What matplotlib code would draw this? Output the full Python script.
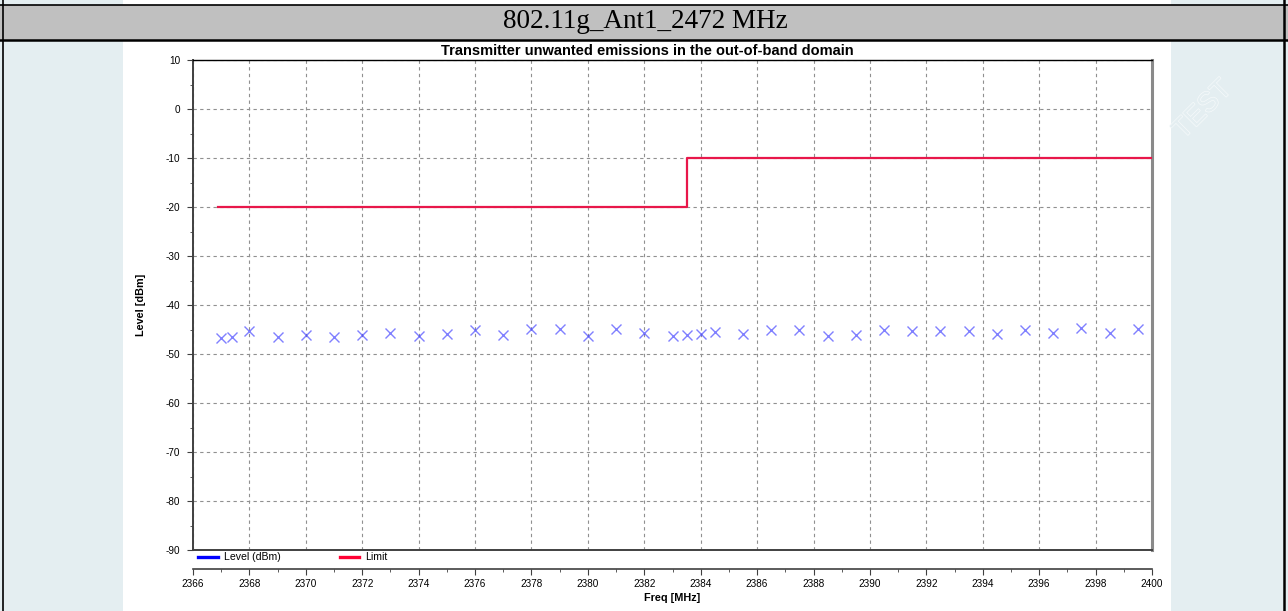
import matplotlib.pyplot as plt
from matplotlib.patches import Rectangle
from matplotlib.lines import Line2D
from matplotlib.ticker import MultipleLocator
import matplotlib.patheffects as pe

plt.rcParams['font.family'] = ['Liberation Sans', 'DejaVu Sans']
plt.rcParams['axes.unicode_minus'] = False

# measured points
freq = [2367, 2367.4, 2368, 2369, 2370, 2371, 2372, 2373, 2374, 2375, 2376,
        2377, 2378, 2379, 2380, 2381, 2382, 2383, 2383.5, 2384, 2384.5,
        2385.5, 2386.5, 2387.5, 2388.5, 2389.5, 2390.5, 2391.5, 2392.5,
        2393.5, 2394.5, 2395.5, 2396.5, 2397.5, 2398.5, 2399.5]
level = [-46.8, -46.5, -45.4, -46.5, -46.1, -46.6, -46.1, -45.7, -46.4, -45.9,
         -45.1, -46.1, -44.9, -44.8, -46.4, -44.9, -45.7, -46.4, -46.1, -45.9,
         -45.6, -45.9, -45.1, -45.2, -46.3, -46.1, -45.2, -45.4, -45.4, -45.4,
         -45.9, -45.1, -45.7, -44.7, -45.7, -44.9]

# limit line (steps)
limit_freq = [2366.9, 2383.5, 2400]
limit_level = [-20, -10, -10]

W, H = 1288, 611
fig = plt.figure(figsize=(W / 100, H / 100), dpi=100)
fig.patch.set_facecolor('white')


def px_rect(x0, y0, x1, y1, **kw):
    fig.add_artist(Rectangle((x0 / W, 1 - y1 / H), (x1 - x0) / W, (y1 - y0) / H,
                             transform=fig.transFigure, **kw))


def px_line(x0, y0, x1, y1, **kw):
    fig.add_artist(Line2D([x0 / W, x1 / W], [1 - y0 / H, 1 - y1 / H],
                          transform=fig.transFigure, **kw))


# page background
bg = '#e4eef1'
px_rect(0, 0, 123, H, facecolor=bg, edgecolor='none')
px_rect(1171, 0, W, H, facecolor=bg, edgecolor='none')
px_rect(0, 5, W, 40, facecolor='#c0c0c0', edgecolor='none')
px_line(0, 5, W, 5, color='black', lw=1.2)
px_line(0, 40, W, 40, color='black', lw=1.8)
px_line(3, 0, 3, H, color='black', lw=1.2)
px_line(1284, 0, 1284, H, color='black', lw=1.8)
fig.text(645 / W, 1 - 22 / H, '802.11g_Ant1_2472 MHz', ha='center', va='center',
         fontsize=19.5, family='Liberation Serif')

# watermark
fig.text(1203 / W, 1 - 110 / H, 'TEST', ha='center', va='center', rotation=45,
         fontsize=20, color=bg,
         path_effects=[pe.withStroke(linewidth=1.0, foreground='#f6fafb')])

ax = fig.add_axes([193 / W, 1 - 550 / H, (1152 - 193) / W, 490 / H])

ax.plot(freq, level, linestyle='none', marker='x', color='#4a4aff', alpha=0.7,
        markersize=7.5, markeredgewidth=1.0, zorder=3)
ax.plot(limit_freq, limit_level, drawstyle='steps-post', color='#e8174a',
        lw=1.6, zorder=4)

ax.set_xlim(2366, 2400)
ax.set_ylim(-90, 10)
ax.xaxis.set_major_locator(MultipleLocator(2))
ax.xaxis.set_minor_locator(MultipleLocator(1))
ax.yaxis.set_major_locator(MultipleLocator(10))
ax.yaxis.set_minor_locator(MultipleLocator(5))
ax.grid(True, which='major', color='#909090', linestyle=(0, (3, 3)), lw=0.8)

ax.tick_params(which='both', labelsize=7.2, color='#404040')
ax.tick_params(axis='y', pad=5)
ax.tick_params(axis='x', pad=3)
ax.tick_params(which='major', length=4)
ax.tick_params(which='minor', length=2.5)

ax.spines['top'].set_color('black')
ax.spines['top'].set_linewidth(1.0)
ax.spines['right'].set_color('#8a8a8a')
ax.spines['right'].set_linewidth(2.2)
ax.spines['left'].set_color('#404040')
ax.spines['left'].set_linewidth(1.4)
ax.spines['bottom'].set_position(('outward', 13.7))
ax.spines['bottom'].set_color('#404040')
ax.spines['bottom'].set_linewidth(1.2)
# frame bottom
ax.axhline(-90, color='#404040', lw=1.4, clip_on=False, zorder=5)

ax.set_xlabel('Freq [MHz]', fontsize=7.8, fontweight='bold', labelpad=3)
ax.set_ylabel('Level [dBm]', fontsize=7.8, fontweight='bold', labelpad=14)

fig.text(647 / W, 1 - 51 / H, 'Transmitter unwanted emissions in the out-of-band domain',
         ha='center', va='center', fontsize=10.5, fontweight='bold')

handles = [Line2D([], [], color='#0000ff', lw=2.4),
           Line2D([], [], color='#ff0033', lw=2.4)]
ax.legend(handles, ['Level (dBm)', 'Limit'], loc='center left',
          bbox_to_anchor=(198 / W, 1 - 557.5 / H), bbox_transform=fig.transFigure,
          ncol=2, frameon=False, fontsize=7.6, handlelength=1.85,
          handletextpad=0.6, columnspacing=5.6, borderpad=0, borderaxespad=0)

fig.savefig('out.png', dpi=100)
